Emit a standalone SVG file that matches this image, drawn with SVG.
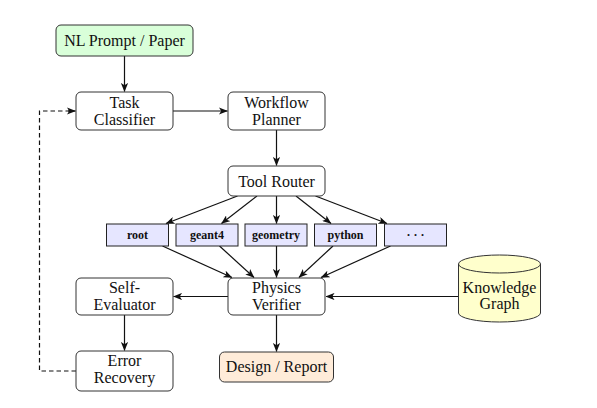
<svg xmlns="http://www.w3.org/2000/svg" width="597" height="408" viewBox="0 0 597 408">
<style>
  .box { fill: #ffffff; stroke: #333333; stroke-width: 1; }
  .tool { fill: #e6e6ff; stroke: #222222; stroke-width: 1; }
  .t { font-family: "Liberation Serif", "DejaVu Serif", serif; font-size: 16px; fill: #111111; text-anchor: middle; }
  .ts { font-family: "Liberation Serif", "DejaVu Serif", serif; font-size: 12px; font-weight: bold; fill: #111111; text-anchor: middle; }
  .edge { fill: none; stroke: #111111; stroke-width: 1.2; marker-end: url(#arr); }
  .dash { fill: none; stroke: #111111; stroke-width: 1.2; stroke-dasharray: 4.5 3; }
</style>
<defs>
  <marker id="arr" viewBox="0 0 10 8" refX="9.5" refY="4" markerWidth="9" markerHeight="7.2" markerUnits="userSpaceOnUse" orient="auto">
    <path d="M0,0 L10,4 L0,8 L2.5,4 Z" fill="#111111"/>
  </marker>
</defs>
<rect width="597" height="408" fill="#ffffff"/>

<g id="connectors">
  <path class="edge" d="M124.5,56 L124.5,91.5"/>
  <path class="edge" d="M173,111 L227.5,111"/>
  <path class="edge" d="M276.5,130 L276.5,165.5"/>
  <path class="edge" d="M237.5,196 L166,223.5"/>
  <path class="edge" d="M257,196 L221.5,223.5"/>
  <path class="edge" d="M276.5,196 L276.5,223.5"/>
  <path class="edge" d="M296,196 L331,223.5"/>
  <path class="edge" d="M315.5,196 L387,223.5"/>
  <path class="edge" d="M162.5,246 L232,277.5"/>
  <path class="edge" d="M219.5,246 L254,277.5"/>
  <path class="edge" d="M276.5,246 L276.5,277.5"/>
  <path class="edge" d="M333,246 L299,277.5"/>
  <path class="edge" d="M390.5,246 L321,277.5"/>
  <path class="edge" d="M458,296.5 L326,296.5"/>
  <path class="edge" d="M228,296.5 L173.5,296.5"/>
  <path class="edge" d="M124.5,315 L124.5,350.5"/>
  <path class="edge" d="M276.5,315 L276.5,351.5"/>
  <path class="dash" d="M76,371 L39.5,371 L39.5,111 L70,111"/>
  <path class="edge" d="M68,111 L75.5,111"/>
</g>

<g id="nl-prompt">
  <rect x="56" y="25" width="137" height="31" rx="5" fill="#d9ffd9" stroke="#333333" stroke-width="1"/>
  <text class="t" x="124.5" y="45.5">NL Prompt / Paper</text>
</g>
<g id="task-classifier">
  <rect class="box" x="76" y="92" width="97" height="38" rx="5"/>
  <text class="t" x="124.5" y="107.5">Task</text>
  <text class="t" x="124.5" y="124.5">Classifier</text>
</g>
<g id="workflow-planner">
  <rect class="box" x="228" y="92" width="97" height="38" rx="5"/>
  <text class="t" x="276.5" y="107.5">Workflow</text>
  <text class="t" x="276.5" y="124.5">Planner</text>
</g>
<g id="tool-router">
  <rect class="box" x="228" y="166" width="97" height="30" rx="5"/>
  <text class="t" x="276.5" y="186.5">Tool Router</text>
</g>
<g id="tool-root">
  <rect class="tool" x="106.5" y="224" width="62" height="22"/>
  <text class="ts" x="137.5" y="238.8">root</text>
</g>
<g id="tool-geant4">
  <rect class="tool" x="176" y="224" width="62" height="22"/>
  <text class="ts" x="207" y="238.8">geant4</text>
</g>
<g id="tool-geometry">
  <rect class="tool" x="245" y="224" width="62" height="22"/>
  <text class="ts" x="276" y="238.8">geometry</text>
</g>
<g id="tool-python">
  <rect class="tool" x="314.5" y="224" width="62" height="22"/>
  <text class="ts" x="345.5" y="238.8">python</text>
</g>
<g id="tool-more">
  <rect class="tool" x="384.5" y="224" width="62" height="22"/>
  <text class="ts" x="415.5" y="238.8">· · ·</text>
</g>
<g id="physics-verifier">
  <rect class="box" x="228" y="278" width="97" height="37" rx="5"/>
  <text class="t" x="276.5" y="293">Physics</text>
  <text class="t" x="276.5" y="309.5">Verifier</text>
</g>
<g id="self-evaluator">
  <rect class="box" x="76" y="278" width="97" height="37" rx="5"/>
  <text class="t" x="124.5" y="293">Self-</text>
  <text class="t" x="124.5" y="309.5">Evaluator</text>
</g>
<g id="error-recovery">
  <rect class="box" x="76" y="351" width="97" height="40" rx="5"/>
  <text class="t" x="124.5" y="366">Error</text>
  <text class="t" x="124.5" y="382.5">Recovery</text>
</g>
<g id="design-report">
  <rect x="219.5" y="352" width="114" height="30" rx="5" fill="#ffecd9" stroke="#333333" stroke-width="1"/>
  <text class="t" x="276.5" y="371.5">Design / Report</text>
</g>
<g id="knowledge-graph">
  <path d="M458.5,264 L458.5,313 A41,9 0 0 0 540.5,313 L540.5,264 A41,9 0 0 0 458.5,264 Z" fill="#ffffcc" stroke="#333333" stroke-width="1"/>
  <path d="M458.5,264 A41,9 0 0 0 540.5,264" fill="none" stroke="#333333" stroke-width="1"/>
  <text class="t" x="499.5" y="292.5">Knowledge</text>
  <text class="t" x="499.5" y="308.5">Graph</text>
</g>
</svg>
